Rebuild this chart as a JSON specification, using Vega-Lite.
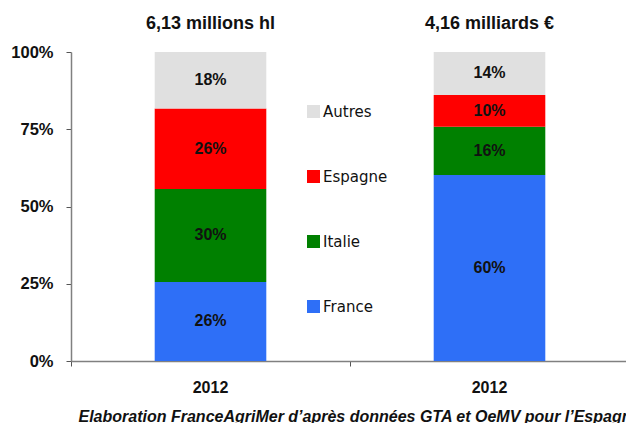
{
  "$schema": "https://vega.github.io/schema/vega-lite/v6.json",
  "width": 558,
  "height": 309,
  "autosize": {"type": "none"},
  "padding": {"left": 71, "top": 52, "right": 0, "bottom": 62},
  "background": "white",
  "config": {"view": {"stroke": null}, "font": "Liberation Sans"},
  "data": {
    "values": [
      {"titre": "6,13 millions hl", "pays": "France", "part": 25.6, "ordre": 1, "etiquette": "26%"},
      {"titre": "6,13 millions hl", "pays": "Italie", "part": 30.1, "ordre": 2, "etiquette": "30%"},
      {"titre": "6,13 millions hl", "pays": "Espagne", "part": 26.0, "ordre": 3, "etiquette": "26%"},
      {"titre": "6,13 millions hl", "pays": "Autres", "part": 18.3, "ordre": 4, "etiquette": "18%"},
      {"titre": "4,16 milliards €", "pays": "France", "part": 60.2, "ordre": 1, "etiquette": "60%"},
      {"titre": "4,16 milliards €", "pays": "Italie", "part": 15.6, "ordre": 2, "etiquette": "16%"},
      {"titre": "4,16 milliards €", "pays": "Espagne", "part": 10.3, "ordre": 3, "etiquette": "10%"},
      {"titre": "4,16 milliards €", "pays": "Autres", "part": 13.9, "ordre": 4, "etiquette": "14%"}
    ]
  },
  "transform": [
    {"stack": "part", "groupby": ["titre"], "sort": [{"field": "ordre", "order": "ascending"}], "as": ["y0", "y1"]},
    {"calculate": "(datum.y0 + datum.y1) / 2", "as": "ymid"}
  ],
  "layer": [
    {
      "mark": {"type": "bar", "width": {"band": 0.4}},
      "encoding": {
        "x": {
          "field": "titre",
          "type": "nominal",
          "sort": ["6,13 millions hl", "4,16 milliards €"],
          "scale": {"paddingInner": 0, "paddingOuter": 0},
          "axis": {
            "orient": "bottom",
            "bandPosition": 0,
            "labelExpr": "'2012'",
            "labelAngle": 0,
            "labelFont": "Liberation Sans",
            "labelFontSize": 16,
            "labelFontWeight": "bold",
            "labelColor": "#111111",
            "labelPadding": 13,
            "ticks": true,
            "tickSize": 5,
            "tickColor": "#555555",
            "domainColor": "#808080",
            "domainWidth": 1.5,
            "title": "Elaboration FranceAgriMer d’après données GTA et OeMV pour l’Espagne",
            "titleX": 7,
            "titleY": 60,
            "titleAlign": "left",
            "titleAnchor": "start",
            "titleBaseline": "alphabetic",
            "titleFont": "Liberation Sans",
            "titleFontSize": 16,
            "titleFontWeight": "bold",
            "titleFontStyle": "italic",
            "titleColor": "#111111"
          }
        },
        "y": {
          "field": "y0",
          "type": "quantitative",
          "scale": {"domain": [0, 100], "nice": false},
          "axis": {
            "values": [0, 25, 50, 75, 100],
            "labelExpr": "datum.value + '%'",
            "grid": false,
            "title": null,
            "tickSize": 5,
            "tickColor": "#555555",
            "labelPadding": 13,
            "labelFont": "Liberation Sans",
            "labelFontSize": 16.5,
            "labelFontWeight": "bold",
            "labelColor": "#111111",
            "domainColor": "#808080",
            "domainWidth": 1.5
          }
        },
        "y2": {"field": "y1"},
        "color": {
          "field": "pays",
          "type": "nominal",
          "scale": {
            "domain": ["Autres", "Espagne", "Italie", "France"],
            "range": ["#e0e0e0", "#ff0000", "#008000", "#2e6ff7"]
          },
          "legend": {
            "orient": "none",
            "legendX": 235,
            "legendY": 52,
            "title": null,
            "padding": 0,
            "symbolType": "square",
            "symbolSize": 169,
            "symbolStrokeWidth": 0,
            "labelFont": "DejaVu Sans",
            "labelFontSize": 15,
            "labelColor": "#111111",
            "labelOffset": 2,
            "rowPadding": 49
          }
        }
      }
    },
    {
      "mark": {"type": "text", "font": "Liberation Sans", "fontSize": 16, "fontWeight": "bold", "color": "#111111", "baseline": "middle"},
      "encoding": {
        "x": {
          "field": "titre",
          "type": "nominal",
          "sort": ["6,13 millions hl", "4,16 milliards €"],
          "axis": {
            "orient": "top",
            "title": null,
            "domain": false,
            "ticks": false,
            "tickSize": 0,
            "labelAngle": 0,
            "labelPadding": 20,
            "labelFont": "Liberation Sans",
            "labelFontSize": 18,
            "labelFontWeight": "bold",
            "labelColor": "#111111"
          }
        },
        "y": {
          "field": "ymid",
          "type": "quantitative",
          "axis": {
            "values": [0, 25, 50, 75, 100],
            "labelExpr": "datum.value + '%'",
            "grid": false,
            "title": null,
            "tickSize": 5,
            "tickColor": "#555555",
            "labelPadding": 13,
            "labelFont": "Liberation Sans",
            "labelFontSize": 16.5,
            "labelFontWeight": "bold",
            "labelColor": "#111111",
            "domainColor": "#808080",
            "domainWidth": 1.5
          }
        },
        "text": {"field": "etiquette"}
      }
    }
  ],
  "resolve": {"axis": {"x": "independent"}}
}
